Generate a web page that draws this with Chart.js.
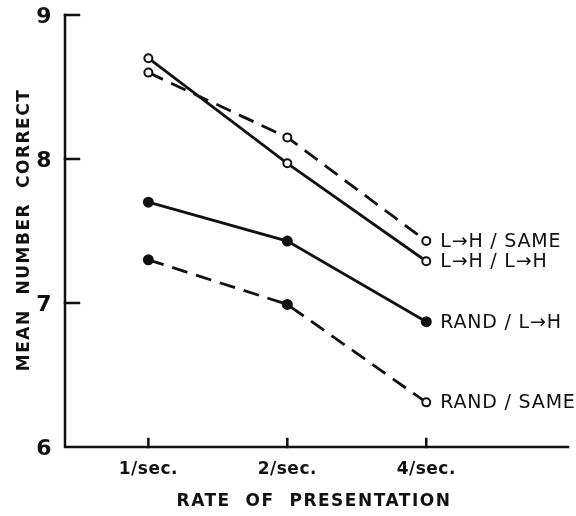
<!DOCTYPE html>
<html>
<head>
<meta charset="utf-8">
<script src="https://cdn.jsdelivr.net/npm/chart.js@4/dist/chart.umd.min.js"></script>
<style>
  html, body { margin: 0; padding: 0; background: #fff; }
  #wrap { width: 576px; height: 516px; }
</style>
</head>
<body>
<div id="wrap"><canvas id="c" width="576" height="516"></canvas></div>
<script>
// ---- data ----
const categories = ['1/sec.', '2/sec.', '4/sec.'];
const yTicks = [6, 7, 8, 9];
const seriesNames = ['L\u2192H / SAME', 'L\u2192H / L\u2192H', 'RAND / L\u2192H', 'RAND / SAME'];
const lhSame = [8.60, 8.15, 7.43];
const lhLh = [8.70, 7.97, 7.29];
const randLh = [7.70, 7.43, 6.87];
const randSame = [7.30, 6.99, 6.31];
const xTitle = 'RATE OF PRESENTATION';
const yTitle = 'MEAN NUMBER CORRECT';

const toPts = arr => arr.map((v, i) => ({ x: i, y: v }));
const INK = '#111';

function ds(label, values, dashed, fills) {
  return {
    label: label,
    data: toPts(values),
    borderColor: INK,
    borderWidth: 2.8,
    borderDash: dashed ? [16, 9] : [],
    pointRadius: fills.map(f => f ? 4.5 : 4),
    pointBorderWidth: 2,
    pointBorderColor: INK,
    pointBackgroundColor: fills.map(f => f ? INK : '#fff'),
    tension: 0,
    fill: false
  };
}

const axesPlugin = {
  id: 'axesPlugin',
  afterDraw(chart) {
    const ctx = chart.ctx;
    const xs = chart.scales.x, ys = chart.scales.y;
    const a = chart.chartArea;
    ctx.save();
    ctx.strokeStyle = INK;
    ctx.fillStyle = INK;
    ctx.lineWidth = 2.5;
    ctx.lineCap = 'square';
    // axes lines
    ctx.beginPath();
    ctx.moveTo(a.left, a.top);
    ctx.lineTo(a.left, a.bottom);
    ctx.lineTo(a.right, a.bottom);
    ctx.stroke();
    // y ticks (inward)
    yTicks.forEach(v => {
      const py = ys.getPixelForValue(v);
      if (v !== yTicks[0]) {
        ctx.beginPath();
        ctx.moveTo(a.left, py);
        ctx.lineTo(a.left + 14, py);
        ctx.stroke();
      }
    });
    // x ticks (inward)
    categories.forEach((c, i) => {
      const px = xs.getPixelForValue(i);
      ctx.beginPath();
      ctx.moveTo(px, a.bottom);
      ctx.lineTo(px, a.bottom - 8);
      ctx.stroke();
    });
    // y tick labels
    ctx.font = 'bold 22px "DejaVu Sans", sans-serif';
    ctx.textAlign = 'center';
    ctx.textBaseline = 'middle';
    yTicks.forEach(v => {
      const py = ys.getPixelForValue(v);
      ctx.fillText(String(v), 44, py + 2);
    });
    // x tick labels
    ctx.font = 'bold 17px "DejaVu Sans", sans-serif';
    ctx.letterSpacing = '0.5px';
    categories.forEach((c, i) => {
      const px = xs.getPixelForValue(i);
      ctx.fillText(c, px, 470);
    });
    // x title
    ctx.font = 'bold 17px "DejaVu Sans", sans-serif';
    ctx.letterSpacing = '1.5px';
    ctx.fillText(xTitle.split(' ').join('  '), 314, 502);
    // y title
    ctx.save();
    ctx.translate(25, 230);
    ctx.rotate(-Math.PI / 2);
    ctx.fillText(yTitle.split(' ').join('  '), 0, 0);
    ctx.restore();
    // series labels
    ctx.letterSpacing = '0.8px';
    ctx.font = '19px "DejaVu Sans", sans-serif';
    ctx.textAlign = 'left';
    chart.data.datasets.forEach((d, i) => {
      const meta = chart.getDatasetMeta(i);
      const last = meta.data[meta.data.length - 1];
      ctx.fillText(seriesNames[i], last.x + 14, last.y + 1);
    });
    ctx.restore();
  }
};

new Chart(document.getElementById('c'), {
  type: 'line',
  data: {
    datasets: [
      ds(seriesNames[0], lhSame, true, [false, false, false]),
      ds(seriesNames[1], lhLh, false, [false, false, false]),
      ds(seriesNames[2], randLh, false, [true, true, true]),
      ds(seriesNames[3], randSame, true, [true, true, false])
    ]
  },
  options: {
    responsive: false,
    animation: false,
    devicePixelRatio: 1,
    layout: { padding: { left: 65, right: 8, top: 15, bottom: 69 } },
    plugins: { legend: { display: false }, tooltip: { enabled: false } },
    scales: {
      x: { type: 'linear', min: -0.6, max: 3.02, display: false },
      y: { type: 'linear', min: 6, max: 9, display: false }
    }
  },
  plugins: [axesPlugin]
});
</script>
</body>
</html>
